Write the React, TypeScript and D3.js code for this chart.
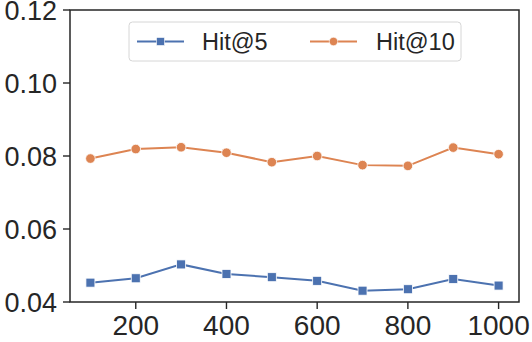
import React from 'react';
import * as d3 from 'd3';

// x positions (sample counts)
const steps = [100, 200, 300, 400, 500, 600, 700, 800, 900, 1000];
// values
const hit5 = [0.0453, 0.0465, 0.0503, 0.0477, 0.0468, 0.0458, 0.0431, 0.0435, 0.0463, 0.0445];
const hit10 = [0.0793, 0.0819, 0.0824, 0.0809, 0.0783, 0.0800, 0.0775, 0.0773, 0.0823, 0.0805];
const xTicks = [200, 400, 600, 800, 1000];
const yTicks = [0.04, 0.06, 0.08, 0.1, 0.12];
const seriesNames = ['Hit@5', 'Hit@10'];

const W = 532;
const H = 342;
const margin = { top: 10, right: 13, bottom: 40, left: 70 };
const BLUE = '#4c72b0';
const ORANGE = '#dd8452';
const INK = '#262626';
const FONT = '"Liberation Sans", Arial, sans-serif';

const App = () => {
  const x = d3.scaleLinear().domain([55, 1045]).range([margin.left, W - margin.right]);
  const y = d3.scaleLinear().domain([0.04, 0.12]).range([H - margin.bottom, margin.top]);

  const line = d3.line<number>()
    .x((d, i) => x(steps[i]))
    .y(d => y(d));

  const x0 = x.range()[0];
  const x1 = x.range()[1];
  const y0 = y.range()[0];
  const y1 = y.range()[1];

  // 凡例
  const legend = { x: 129, y: 22, w: 332, h: 39 };
  const legendItems = [
    { name: seriesNames[0], color: BLUE, marker: 'square', lx: 137, tx: 202 },
    { name: seriesNames[1], color: ORANGE, marker: 'circle', lx: 310, tx: 376 },
  ];
  const legendY = legend.y + legend.h / 2;

  return (
    <div style={{ position: 'fixed', left: 0, top: 0 }}>
      <svg width={W} height={H} style={{ display: 'block', background: '#fff' }}>
        {/* lines */}
        <path d={line(hit5) || ''} fill="none" stroke={BLUE} strokeWidth={2} />
        <path d={line(hit10) || ''} fill="none" stroke={ORANGE} strokeWidth={2} />
        {hit5.map((v, i) => (
          <rect key={'s' + i} x={x(steps[i]) - 4.5} y={y(v) - 4.5} width={9} height={9}
            fill={BLUE} stroke="#fff" strokeWidth={0.8} />
        ))}
        {hit10.map((v, i) => (
          <circle key={'c' + i} cx={x(steps[i])} cy={y(v)} r={4.8}
            fill={ORANGE} stroke="#fff" strokeWidth={0.8} />
        ))}

        {/* frame */}
        <rect x={x0} y={y1} width={x1 - x0} height={y0 - y1} fill="none" stroke={INK} strokeWidth={1.5} />

        {/* y axis ticks */}
        {yTicks.map(t => (
          <g key={'y' + t}>
            <line x1={x0 - 7} x2={x0} y1={y(t)} y2={y(t)} stroke={INK} strokeWidth={1.4} />
            <text x={x0 - 13} y={y(t)} dy="0.36em" textAnchor="end" fontSize={27}
              fontFamily={FONT} fill={INK}>{d3.format('.2f')(t)}</text>
          </g>
        ))}

        {/* x axis ticks */}
        {xTicks.map(t => (
          <g key={'x' + t}>
            <line x1={x(t)} x2={x(t)} y1={y0} y2={y0 + 7} stroke={INK} strokeWidth={1.4} />
            <text x={x(t)} y={335} textAnchor="middle" fontSize={28}
              fontFamily={FONT} fill={INK}>{t}</text>
          </g>
        ))}

        {/* legend */}
        <rect x={legend.x} y={legend.y} width={legend.w} height={legend.h} rx={3.5}
          fill="#fff" fillOpacity={0.8} stroke="#d6d6d6" strokeWidth={1} />
        {legendItems.map(it => (
          <g key={it.name}>
            <line x1={it.lx} x2={it.lx + 47} y1={legendY} y2={legendY} stroke={it.color} strokeWidth={2} />
            {it.marker === 'square'
              ? <rect x={it.lx + 23.5 - 4} y={legendY - 4} width={8} height={8} fill={it.color} stroke="#fff" strokeWidth={0.6} />
              : <circle cx={it.lx + 23.5} cy={legendY} r={4.2} fill={it.color} stroke="#fff" strokeWidth={0.6} />}
            <text x={it.tx} y={legendY} dy="0.36em" fontSize={23.5} fontFamily={FONT} fill={INK}>{it.name}</text>
          </g>
        ))}
      </svg>
    </div>
  );
};

export default App;
